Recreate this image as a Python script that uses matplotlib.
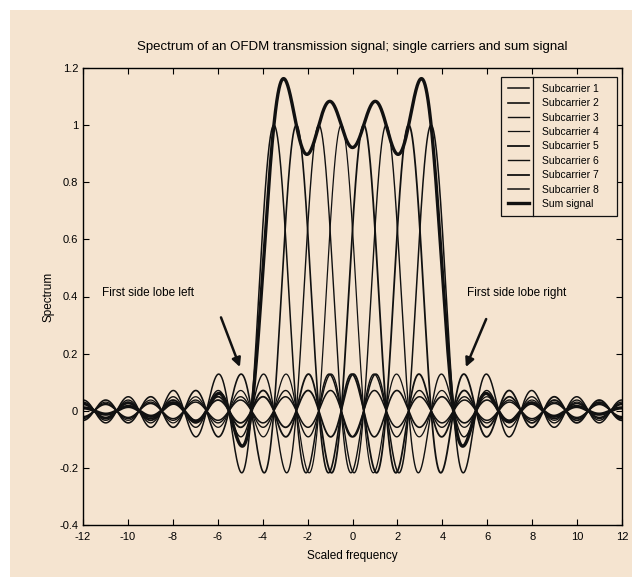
import numpy as np
import matplotlib.pyplot as plt
from matplotlib.lines import Line2D
from matplotlib.patches import Rectangle

plt.rcParams['font.family'] = ['Liberation Sans', 'DejaVu Sans']
plt.rcParams['axes.unicode_minus'] = False

# centre frequencies of the 8 subcarriers (scaled frequency units)
centres = [-3.5, -2.5, -1.5, -0.5, 0.5, 1.5, 2.5, 3.5]
labels = ['Subcarrier %d' % (i + 1) for i in range(len(centres))] + ['Sum signal']
widths = [1.1, 1.2, 1.0, 0.9, 1.3, 1.0, 1.3, 1.1]

x_ticks = np.arange(-12, 13, 2)
y_ticks = [-0.4, -0.2, 0, 0.2, 0.4, 0.6, 0.8, 1, 1.2]
y_ticklabels = ['-0.4', '-0.2', '0', '0.2', '0.4', '0.6', '0.8', '1', '1.2']

bg = '#f5e4d0'

fig = plt.figure(figsize=(6.32, 5.77), dpi=100, facecolor='white')
fig.add_artist(Rectangle((10 / 632, 0), 1, 567 / 577, transform=fig.transFigure,
                         facecolor=bg, edgecolor='none', zorder=-10))
ax = fig.add_axes([83 / 632, 52 / 577, 539 / 632, 457 / 577])
ax.set_facecolor(bg)

f = np.linspace(-12, 12, 4001)
total = np.zeros_like(f)
for c, lw, lab in zip(centres, widths, labels):
    s = np.sinc(f - c)
    total += s
    ax.plot(f, s, color='#111111', lw=lw, label=lab + '    ')
ax.plot(f, total, color='#111111', lw=2.4, label=labels[-1] + '    ')

ax.set_xlim(-12, 12)
ax.set_ylim(-0.4, 1.2)
ax.set_xticks(x_ticks)
ax.set_yticks(y_ticks)
ax.set_yticklabels(y_ticklabels)
ax.tick_params(direction='in', top=True, right=True, labelsize=8, length=4, width=0.8)
ax.tick_params(axis='x', pad=5)
for sp in ax.spines.values():
    sp.set_linewidth(1.0)

ax.set_title('Spectrum of an OFDM transmission signal; single carriers and sum signal',
             fontsize=9.5, pad=13)
ax.set_xlabel('Scaled frequency', fontsize=8.5, labelpad=6)
ax.set_ylabel('Spectrum', fontsize=8.5, labelpad=3)

ax.annotate('First side lobe left', xy=(-4.97, 0.144), xytext=(-11.15, 0.413),
            fontsize=8.5, va='center', ha='left')
ax.annotate('', xy=(-4.97, 0.144), xytext=(-5.9, 0.336),
            arrowprops=dict(arrowstyle='-|>', color='#111111', lw=1.8, mutation_scale=13))
ax.annotate('First side lobe right', xy=(5.0, 0.144), xytext=(5.1, 0.413),
            fontsize=8.5, va='center', ha='left')
ax.annotate('', xy=(5.0, 0.144), xytext=(6.0, 0.33),
            arrowprops=dict(arrowstyle='-|>', color='#111111', lw=1.8, mutation_scale=13))

leg = ax.legend(loc='upper right', bbox_to_anchor=(0.991, 0.980), borderaxespad=0,
                fontsize=7.5, fancybox=False, framealpha=1, edgecolor='#111111',
                facecolor=bg, handlelength=2.0, labelspacing=0.42, handletextpad=1.25,
                borderpad=0.65)
leg.get_frame().set_linewidth(0.9)

# MATLAB style divider between line samples and labels
fig.canvas.draw()
lb = leg.get_window_extent()
tx = leg.get_texts()[0].get_window_extent().x0 - 9
inv = fig.transFigure.inverted()
p0 = inv.transform((tx, lb.y0))
p1 = inv.transform((tx, lb.y1))
fig.add_artist(Line2D([p0[0], p1[0]], [p0[1], p1[1]], transform=fig.transFigure,
                      color='#111111', lw=0.9))

fig.savefig('out.png', dpi=100, facecolor='white')
